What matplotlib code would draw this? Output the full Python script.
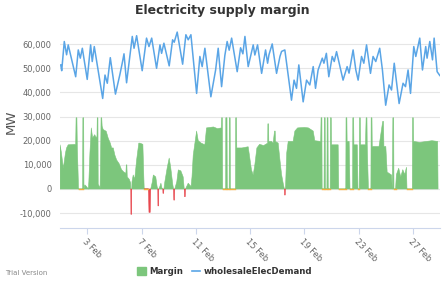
import numpy as np
import matplotlib
matplotlib.use("Agg")
import matplotlib.pyplot as plt
from matplotlib.patches import Patch
from matplotlib.lines import Line2D

# readings; x is days after 1 Feb 00:00
demand_day = [0.05, 0.12, 0.31, 0.48, 0.60, 1.15, 1.34, 1.49, 1.64, 2.00, 2.25, 2.37,
              2.52, 3.14, 3.31, 3.48, 3.70, 4.08, 4.41, 4.60, 4.71, 4.90, 5.32, 5.45,
              5.64, 6.05, 6.37, 6.55, 6.75, 7.11, 7.36, 7.48, 7.65, 8.04, 8.29, 8.41,
              8.63, 9.03, 9.27, 9.44, 9.64, 10.06, 10.30, 10.47, 10.67, 11.11, 11.46, 11.65,
              11.90, 12.14, 12.31, 12.46, 12.64, 13.05, 13.30, 13.47, 13.62, 13.86, 14.23, 14.35,
              14.55, 14.85, 15.14, 15.29, 15.39, 15.63, 15.95, 16.20, 16.32, 16.56, 16.69, 17.05,
              17.24, 17.42, 17.59, 17.91, 18.16, 18.40, 18.65, 18.82, 19.01, 19.32, 19.44, 19.62,
              19.80, 20.05, 20.20, 20.37, 20.85, 21.15, 21.29, 21.59, 21.79, 21.96, 22.21, 22.38,
              22.58, 22.87, 23.06, 23.26, 23.55, 23.75, 23.99, 24.24, 24.42, 24.62, 24.98, 25.27,
              25.45, 25.64, 25.82, 26.06, 26.21, 26.50, 26.70, 26.94, 27.04, 27.24, 27.44, 27.56,
              27.78, 27.98]
demand_mw = [51400, 49000, 61100, 55600, 59700, 46500, 57600, 54200, 58300, 45400, 59700, 52800,
             59000, 37500, 47200, 43800, 54400, 39300, 47500, 52700, 56000, 44000, 63200, 58300,
             63500, 49000, 62500, 59000, 62500, 50000, 59700, 56200, 60400, 51000, 61800, 60800,
             65000, 51700, 63900, 61800, 63900, 39600, 54900, 50700, 58300, 38200, 49300, 58300,
             42400, 55300, 61100, 57500, 62500, 48600, 58500, 56000, 63200, 50700, 59700, 55500,
             59700, 47900, 57600, 52100, 55600, 60100, 47900, 54900, 57000, 57600, 52100, 36800,
             45100, 41700, 51400, 36100, 45100, 43100, 50700, 41700, 49300, 54200, 52100, 56200,
             46500, 54900, 52800, 56900, 45100, 50700, 48000, 57600, 49300, 45100, 54900, 52100,
             59700, 47900, 54900, 52800, 58300, 49300, 34700, 43100, 41000, 52100, 35400, 43800,
             42400, 49300, 39600, 59000, 54900, 62500, 49300, 59000, 54200, 61100, 53500, 62500,
             48600, 47000]

margin_day = [0.00, 0.10, 0.24, 0.40, 0.48, 0.60, 1.15, 1.18, 1.24, 1.27, 1.32, 1.36,
              1.66, 1.68, 1.74, 1.76, 1.83, 1.95, 2.08, 2.12, 2.20, 2.30, 2.40, 2.55,
              2.68, 2.72, 2.74, 2.79, 2.81, 2.95, 3.00, 3.02, 3.07, 3.10, 3.18, 3.40,
              3.55, 3.70, 3.80, 3.92, 4.04, 4.17, 4.35, 4.53, 4.70, 4.85, 4.88, 4.92,
              4.95, 5.10, 5.20, 5.21, 5.22, 5.27, 5.28, 5.30, 5.39, 5.50, 5.64, 5.80,
              5.88, 6.10, 6.17, 6.20, 6.50, 6.52, 6.55, 6.64, 6.68, 6.80, 6.87, 7.05,
              7.15, 7.20, 7.21, 7.26, 7.27, 7.35, 7.43, 7.50, 7.57, 7.58, 7.63, 7.65,
              7.72, 7.90, 8.04, 8.15, 8.30, 8.36, 8.38, 8.43, 8.45, 8.60, 8.71, 8.90,
              9.07, 9.15, 9.17, 9.22, 9.24, 9.44, 9.65, 9.72, 9.81, 10.06, 10.18, 10.40,
              10.67, 10.79, 11.30, 11.60, 11.88, 11.90, 11.96, 11.98, 12.20, 12.21, 12.30, 12.32,
              12.46, 12.47, 12.53, 12.55, 12.92, 12.94, 13.00, 13.02, 13.40, 13.86, 13.95, 14.10,
              14.23, 14.35, 14.50, 14.70, 15.00, 15.30, 15.31, 15.36, 15.38, 15.58, 15.70, 15.80,
              15.85, 15.87, 16.07, 16.20, 16.32, 16.45, 16.53, 16.54, 16.59, 16.60, 16.62, 16.70,
              16.81, 17.17, 17.30, 17.50, 18.00, 18.30, 18.65, 18.77, 19.20, 19.23, 19.29, 19.31,
              19.45, 19.47, 19.53, 19.55, 19.66, 19.68, 19.74, 19.76, 19.90, 19.92, 19.98, 20.00,
              20.49, 20.53, 21.05, 21.07, 21.13, 21.15, 21.30, 21.36, 21.55, 21.57, 21.63, 21.65,
              21.90, 21.95, 22.04, 22.06, 22.12, 22.14, 22.50, 22.55, 22.61, 22.63, 22.72, 22.90,
              22.92, 22.98, 23.00, 23.50, 23.77, 23.83, 23.86, 24.00, 24.10, 24.42, 24.48, 24.52,
              24.58, 24.60, 24.72, 24.78, 24.95, 25.10, 25.25, 25.40, 25.52, 25.56, 25.95, 25.97,
              26.03, 26.05, 26.50, 27.00, 27.40, 27.82, 27.85]
margin_mw = [18300, 15000, 8600, 15000, 17000, 18300, 18500, 29500, 29500, 17500, 8000, 0,
             0, 29500, 29500, 0, 1700, 1000, 0, 3000, 15000, 25300, 21100, 22500,
             21000, 22000, 29500, 29500, 2000, 500, 20000, 29500, 29500, 26000, 24600, 23900,
             21000, 19000, 17000, 17000, 14000, 12000, 10500, 8000, 7000, 6500, 10000, 10000,
             5000, 4000, 2500, 0, -10500, -10500, 0, 3000, 5800, 4000, 12000, 19000,
             19000, 18500, 5000, 0, 0, -2000, -9700, -9700, 0, 3000, 5800, 5000,
             1000, 0, -7000, -7000, 0, 1000, 2400, 500, 0, -1800, -1800, 0,
             3000, 9000, 12800, 9000, 2000, 0, -4600, -4600, 0, 3000, 7900, 7500,
             5000, 0, -3200, -3200, 0, 2400, 1000, 5000, 14000, 24000, 20000, 19000,
             18300, 25300, 25700, 25000, 25300, 29500, 29500, 0, 0, 29500, 29500, 0,
             0, 29500, 29500, 0, 0, 29500, 29500, 17000, 17000, 17500, 14000, 8000,
             5800, 10000, 17000, 18500, 18000, 19000, 27000, 27000, 19700, 19700, 19000, 24000,
             24000, 19700, 19000, 12000, 6000, 2000, 0, -2500, -2500, 0, 2000, 15000,
             19700, 19700, 24000, 25300, 25500, 25300, 24000, 20000, 19700, 29500, 29500, 0,
             0, 29500, 29500, 0, 0, 29500, 29500, 0, 0, 29500, 29500, 18300,
             18300, 0, 0, 29500, 29500, 19700, 19700, 0, 0, 29500, 29500, 18300,
             18300, 0, 0, 29500, 29500, 18300, 18300, 29500, 29500, 18300, 0, 0,
             29500, 29500, 17600, 17600, 28000, 28000, 17600, 17600, 7000, 5800, 0, 29500,
             29500, 0, 0, 6000, 8600, 5000, 8000, 6000, 9000, 0, 0, 29500,
             29500, 19700, 19300, 19700, 20000, 19700, 0]

tick_days = [2, 6, 10, 14, 18, 22, 26]
tick_labels = ['3 Feb', '7 Feb', '11 Feb', '15 Feb', '19 Feb', '23 Feb', '27 Feb']
y_ticks = [-10000, 0, 10000, 20000, 30000, 40000, 50000, 60000]

GREEN = '#7cc67c'
RED = '#e8474e'
ORANGE = '#f5b041'
BLUE = '#5aa5e6'

plt.rcParams['font.family'] = 'DejaVu Sans'

fig = plt.figure(figsize=(4.45, 2.81), dpi=100)
ax = fig.add_axes([0.135, 0.190, 0.854, 0.713])

md = np.array(margin_day)
mm = np.array(margin_mw, dtype=float)
ax.fill_between(md, 0, mm, where=mm >= 0, interpolate=True, facecolor=GREEN,
                edgecolor=GREEN, lw=0.4, zorder=2)
ax.fill_between(md, 0, mm, where=mm <= 0, interpolate=True, facecolor=RED,
                edgecolor=RED, lw=0.4, zorder=2)
zero_line = np.where(mm == 0, 0.0, np.nan)
ax.plot(md, zero_line, color=ORANGE, lw=1.0, zorder=3)

ax.plot(demand_day, demand_mw, color=BLUE, lw=1.1, zorder=4)

ax.set_xlim(0, 28)
ax.set_ylim(-16000, 67000)
ax.set_yticks(y_ticks)
ax.set_yticklabels(['{:,}'.format(v) for v in y_ticks])
ax.set_xticks(tick_days)
ax.set_xticklabels(tick_labels, rotation=-45, ha='left', va='top', rotation_mode='anchor')
ax.tick_params(axis='y', length=0, pad=6, labelsize=6, labelcolor='#666666')
ax.tick_params(axis='x', length=4, width=0.8, color='#ccd6eb', pad=3, labelsize=6,
               labelcolor='#666666')
ax.grid(axis='y', color='#e6e6e6', lw=0.8, zorder=0)
ax.set_axisbelow(True)
for s in ['top', 'right', 'left']:
    ax.spines[s].set_visible(False)
ax.spines['bottom'].set_color('#ccd6eb')
ax.spines['bottom'].set_linewidth(0.8)
ax.set_ylabel('MW', fontsize=9.5, color='#555555')
ax.yaxis.set_label_coords(-0.112, 0.53)

fig.suptitle('Electricity supply margin', x=0.5, y=0.985, fontsize=9, fontweight='bold',
             color='#333333')

handles = [Patch(color=GREEN, label='Margin'),
           Line2D([0], [0], color=BLUE, lw=1.2, label='wholesaleElecDemand')]
fig.legend(handles=handles, loc='lower center', bbox_to_anchor=(0.505, -0.01), ncol=2,
           frameon=False, prop={'size': 6.2, 'weight': 'bold'}, handlelength=1.0,
           handleheight=1.0, columnspacing=1.0, handletextpad=0.4, labelcolor='#333333')
fig.text(0.012, 0.02, 'Trial Version', fontsize=5, color='#888888')

fig.savefig('out.png', dpi=100)
